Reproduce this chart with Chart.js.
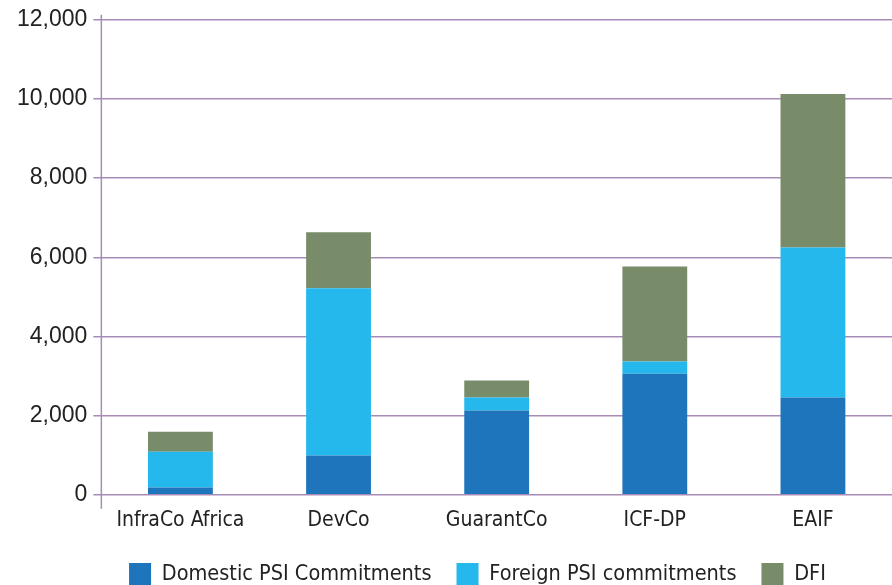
<!DOCTYPE html>
<html>
<head>
<meta charset="utf-8">
<script src="https://cdn.jsdelivr.net/npm/chart.js@4"></script>
<style>
  html, body { margin: 0; padding: 0; background: #ffffff; }
  #wrap { width: 892px; height: 585px; }
</style>
</head>
<body>
<div id="wrap"><canvas id="psiChart"></canvas></div>
<script>
const categories = ['InfraCo Africa', 'DevCo', 'GuarantCo', 'ICF-DP', 'EAIF'];
const domesticPsi = [185, 990, 2130, 3060, 2455];
const foreignPsi = [905, 4225, 325, 305, 3795];
const dfi = [505, 1420, 430, 2405, 3875];
const yTicks = [0, 2000, 4000, 6000, 8000, 10000, 12000];

const gridColor = '#a98bb8';
const narrow = "'DejaVu Sans Condensed', 'Liberation Sans', sans-serif";

// axis line that runs a little past the top and below zero, as in the original
const axisLine = {
  id: 'axisLine',
  afterLayout(chart) {
    // legend sits a bit right of the canvas centre in the original
    chart.legend.left += 26;
    chart.legend.right += 26;
  },
  afterDraw(chart) {
    const { ctx, chartArea } = chart;
    ctx.save();
    ctx.strokeStyle = gridColor;
    ctx.lineWidth = 1.5;
    ctx.beginPath();
    ctx.moveTo(chartArea.left, chartArea.top - 5);
    ctx.lineTo(chartArea.left, chartArea.bottom + 14);
    ctx.stroke();
    ctx.restore();
  },
};

const ctx = document.getElementById('psiChart').getContext('2d');
new Chart(ctx, {
  type: 'bar',
  data: {
    labels: categories,
    datasets: [
      { label: 'Domestic PSI Commitments', data: domesticPsi, backgroundColor: '#1e75bc' },
      { label: 'Foreign PSI commitments', data: foreignPsi, backgroundColor: '#25b8ec' },
      { label: 'DFI', data: dfi, backgroundColor: '#798c69' },
    ],
  },
  options: {
    responsive: true,
    maintainAspectRatio: false,
    animation: false,
    layout: { padding: { top: 15, right: 0, left: 11, bottom: -10 } },
    datasets: { bar: { barPercentage: 0.41, categoryPercentage: 1 } },
    scales: {
      x: {
        stacked: true,
        grid: { display: false },
        border: { display: false },
        ticks: {
          color: '#222222',
          padding: 5,
          font: { family: narrow, size: 21 },
        },
      },
      y: {
        stacked: true,
        min: 0,
        max: 12000,
        afterBuildTicks: (axis) => { axis.ticks = yTicks.map((v) => ({ value: v })); },
        grid: { color: gridColor, lineWidth: 1.5, tickLength: 8 },
        border: { display: false },
        ticks: {
          color: '#222222',
          padding: 6,
          font: { family: 'Liberation Sans', size: 23 },
          callback: (v) => v.toLocaleString('en-US'),
        },
      },
    },
    plugins: {
      tooltip: { enabled: false },
      legend: {
        position: 'bottom',
        labels: {
          color: '#222222',
          boxWidth: 22,
          boxHeight: 22,
          padding: 25,
          font: { family: narrow, size: 21.5 },
        },
      },
    },
  },
  plugins: [axisLine],
});
</script>
</body>
</html>
